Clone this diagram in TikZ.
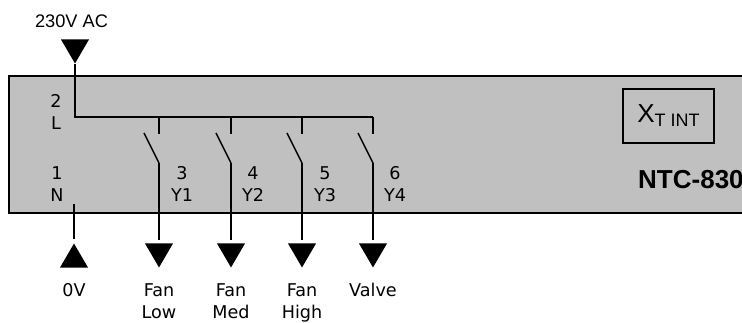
\documentclass[tikz,border=0pt]{standalone}
\usepackage{fontspec}
\setmainfont{DejaVu Sans}
\newfontfamily\arialf{Liberation Sans}
\usetikzlibrary{shapes.geometric}
\definecolor{panelgray}{HTML}{C0C0C0}
\tikzset{
  x=1pt,y=-1pt,
  wire/.style={line width=1.7pt,black},
  terminal/.style={isosceles triangle,isosceles triangle stretches,fill=black,draw=none,inner sep=0pt,minimum width=28pt,minimum height=24pt,anchor=apex},
  tdown/.style={terminal,shape border rotate=-90},
  tup/.style={terminal,shape border rotate=90},
  lbl/.style={inner sep=0pt,anchor=north,align=center,font=\fontsize{17.6}{22.5}\selectfont},
  arlbl/.style={inner sep=0pt,font=\arialf\fontsize{18.2}{22}\selectfont},
}
\begin{document}
\begin{tikzpicture}
\useasboundingbox (0,0) rectangle (742,323);
\clip (0,0) rectangle (742,323);
\fill[white] (0,0) rectangle (742,323);
\draw[line width=2pt,fill=panelgray] (760,76) -- (9,76) -- (9,213) -- (760,213);
\node[draw,line width=1.6pt,minimum width=91pt,minimum height=54pt,inner sep=0pt] (xt) at (668.5,116) {\arialf\fontsize{26}{26}\selectfont X\raisebox{-4pt}{\fontsize{18}{18}\selectfont T INT}};
\node[inner sep=0pt,anchor=base west,font=\arialf\bfseries\fontsize{26}{26}\selectfont] (model) at (638,189) {NTC-830};
\node[arlbl] (ac) at (71.5,21) {230V AC};
\node[tdown] (tL) at (75,64) {};
\node[tup] (tN) at (74,243) {};
\node[tdown] (t1) at (159,268) {};
\node[tdown] (t2) at (231,268) {};
\node[tdown] (t3) at (302,268) {};
\node[tdown] (t4) at (373,268) {};
\coordinate (busL) at (75,117);
\coordinate (busR) at (373,117);
\coordinate (N) at (74,204);
\foreach \n/\xx/\bx in {a/159/144,b/231/216,c/302/287,d/373/358}{
  \coordinate (top\n) at (\xx,117);
  \coordinate (fix\n) at (\xx,134);
  \coordinate (hinge\n) at (\xx,163);
  \coordinate (blade\n) at (\bx,133);
}
\draw[wire] (tL.apex) -- (busL) -- (busR);
\foreach \n/\t in {a/t1,b/t2,c/t3,d/t4}{
  \draw[wire] (top\n) -- (fix\n);
  \draw[wire,line width=1.4pt] (blade\n) -- (hinge\n);
  \draw[wire,shorten >=3pt] (hinge\n) -- (\t);
}
\draw[wire,shorten >=4pt] (N) -- (tN);
\node[lbl] (L2) at (56,94) {2\\L};
\node[lbl] (N1) at (57,166) {1\\N};
\node[lbl] (Y1) at (182,166) {3\\Y1};
\node[lbl] (Y2) at (253,166) {4\\Y2};
\node[lbl] (Y3) at (325,166) {5\\Y3};
\node[lbl] (Y4) at (395,166) {6\\Y4};
\node[lbl] (zero) at (74,283) {0V};
\node[lbl] (fl) at (159,283) {Fan\\Low};
\node[lbl] (fm) at (231,283) {Fan\\Med};
\node[lbl] (fh) at (302,283) {Fan\\High};
\node[lbl] (vv) at (373,282.5) {Valve};
\end{tikzpicture}
\end{document}
